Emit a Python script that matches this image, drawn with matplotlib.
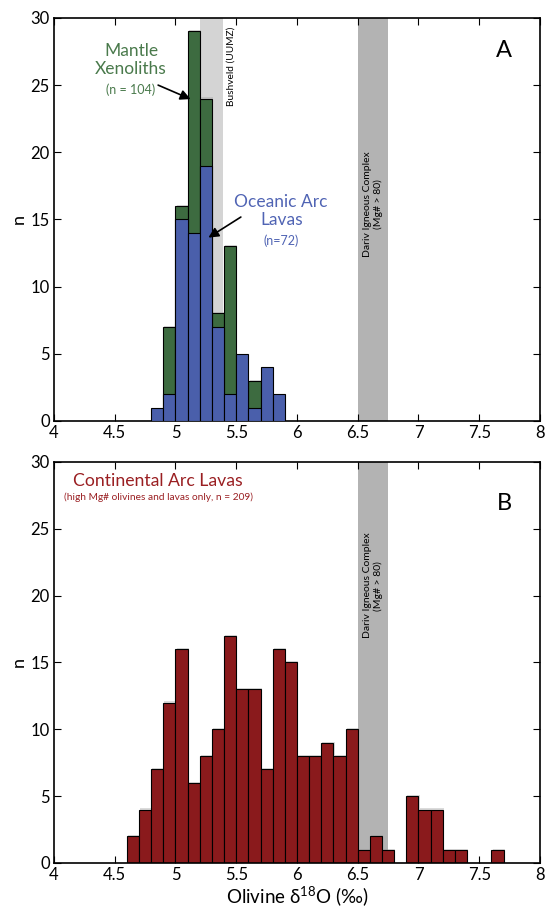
import numpy as np
import matplotlib
matplotlib.use('Agg')
import matplotlib.pyplot as plt
import matplotlib.patheffects as pe

plt.rcParams['font.family'] = ['Lato', 'DejaVu Sans']
plt.rcParams['mathtext.fontset'] = 'custom'
plt.rcParams['mathtext.rm'] = 'Lato'

# panel A: left bin edges (width 0.1) and counts
binsA = [4.8, 4.9, 5.0, 5.1, 5.2, 5.3, 5.4, 5.5, 5.6, 5.7, 5.8]
mantle = [0, 7, 16, 29, 24, 8, 13, 0, 3, 0, 0]
oceanic = [1, 2, 15, 14, 19, 7, 2, 5, 1, 4, 2]

# panel B
binsB = [4.6, 4.7, 4.8, 4.9, 5.0, 5.1, 5.2, 5.3, 5.4, 5.5, 5.6, 5.7, 5.8, 5.9,
         6.0, 6.1, 6.2, 6.3, 6.4, 6.5, 6.6, 6.7, 6.8, 6.9, 7.0, 7.1, 7.2, 7.3,
         7.4, 7.5, 7.6]
continental = [2, 4, 7, 12, 16, 6, 8, 10, 17, 13, 13, 7, 16, 15,
               8, 8, 9, 8, 10, 1, 2, 1, 0, 5, 4, 4, 1, 1,
               0, 0, 1]

bushveld = (5.2, 5.39)
dariv = (6.5, 6.75)

green = '#3d6b40'
blue = '#4a5fab'
red = '#8a1a1c'

# faint drop shadow like the original export
shadow = [pe.SimplePatchShadow(offset=(0.8, 0.8), shadow_rgbFace='#999999',
                               alpha=0.35), pe.Normal()]

fig = plt.figure(figsize=(5.47, 9.11), dpi=100)
axA = fig.add_axes([0.0987, 0.5379, 0.8885, 0.4424])
axB = fig.add_axes([0.0987, 0.0527, 0.8885, 0.4402])

def style(ax):
    ax.set_xlim(4, 8)
    ax.set_ylim(0, 30)
    ax.set_xticks([4, 4.5, 5, 5.5, 6, 6.5, 7, 7.5, 8])
    ax.set_xticklabels(['4', '4.5', '5', '5.5', '6', '6.5', '7', '7.5', '8'])
    ax.set_yticks([0, 5, 10, 15, 20, 25, 30])
    ax.tick_params(direction='in', top=True, right=True, length=5, width=0.8,
                   labelsize=12, pad=3)
    for s in ax.spines.values():
        s.set_linewidth(1.2)
    ax.set_ylabel('n', fontsize=13, labelpad=3)

# --- panel A
axA.axvspan(*bushveld, color='#d4d4d4', zorder=0, lw=0)
axA.axvspan(*dariv, color='#b3b3b3', zorder=0, lw=0)
axA.bar(binsA, mantle, width=0.1, align='edge', color=green,
        edgecolor='black', linewidth=0.8, zorder=2, path_effects=shadow)
axA.bar(binsA, oceanic, width=0.1, align='edge', color=blue,
        edgecolor='black', linewidth=0.8, zorder=3)
style(axA)

axA.text(4.634, 26.9, 'Mantle\nXenoliths', color='#4a7a4c', fontsize=12.5,
         ha='center', va='center', linespacing=1.15)
axA.text(4.634, 24.68, '(n = 104)', color='#4a7a4c', fontsize=9,
         ha='center', va='center')
axA.annotate('', xy=(5.124, 23.96), xytext=(4.857, 25.0),
             arrowprops=dict(arrowstyle='-|>', color='black', lw=1.2,
                             mutation_scale=15, shrinkA=0, shrinkB=0),
             zorder=5)
axA.text(5.87, 15.62, 'Oceanic Arc\nLavas', color='#5064b4', fontsize=12.5,
         ha='center', va='center', linespacing=1.15)
axA.text(5.87, 13.39, '(n=72)', color='#5064b4', fontsize=9,
         ha='center', va='center')
axA.annotate('', xy=(5.271, 13.65), xytext=(5.538, 15.18),
             arrowprops=dict(arrowstyle='-|>', color='black', lw=1.2,
                             mutation_scale=15, shrinkA=0, shrinkB=0),
             zorder=5)
axA.text(5.46, 29.35, 'Bushveld (UUMZ)', rotation=90, fontsize=7.3,
         ha='center', va='top')
axA.text(6.625, 16.15, 'Dariv Igneous Complex\n(Mg# > 80)', rotation=90,
         fontsize=7.5, ha='center', va='center', multialignment='center')
axA.text(7.70, 27.6, 'A', fontsize=17, ha='center', va='center')

# --- panel B
axB.axvspan(*dariv, color='#b3b3b3', zorder=0, lw=0)
axB.bar(binsB, continental, width=0.1, align='edge', color=red,
        edgecolor='black', linewidth=0.8, zorder=2, path_effects=shadow)
style(axB)
axB.text(4.857, 28.58, 'Continental Arc Lavas', color='#9a1f22', fontsize=12.7,
         ha='center', va='center')
axB.text(4.857, 27.39, '(high Mg# olivines and lavas only, n = 209)',
         color='#9a1f22', fontsize=7.3, ha='center', va='center')
axB.text(6.625, 20.75, 'Dariv Igneous Complex\n(Mg# > 80)', rotation=90,
         fontsize=7.5, ha='center', va='center', multialignment='center')
axB.text(7.71, 26.86, 'B', fontsize=17, ha='center', va='center')
axB.set_xlabel(r'Olivine δ$^{18}$O (‰)', fontsize=13.5, labelpad=1)

fig.savefig('out.png', dpi=100)
